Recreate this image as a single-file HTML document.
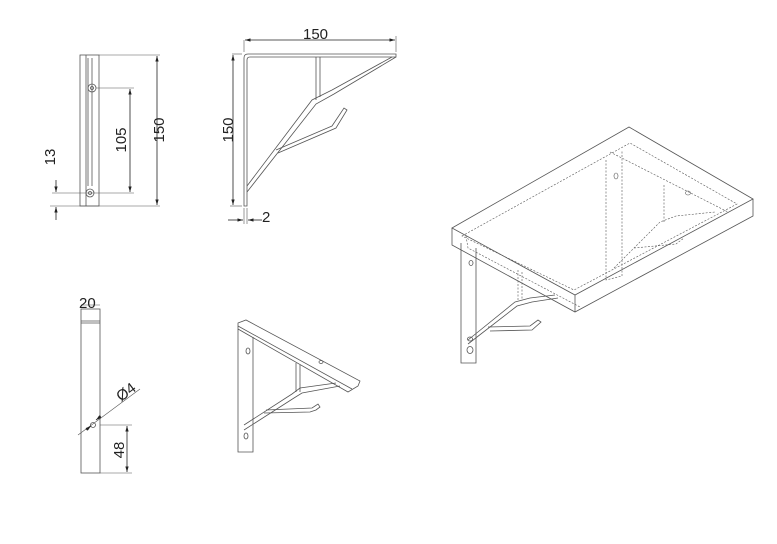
<!DOCTYPE html>
<html><head><meta charset="utf-8"><style>
html,body{margin:0;padding:0;background:#fff;}
svg{display:block}
text{font-family:"Liberation Sans",sans-serif;font-size:15px;fill:#222}
</style></head><body>
<svg width="777" height="544" viewBox="0 0 777 544" xmlns="http://www.w3.org/2000/svg">
<defs>
<marker id="a" viewBox="0 0 10 10" refX="10" refY="5" markerWidth="7" markerHeight="7" orient="auto-start-reverse"><path d="M0,2 L10,5 L0,8 z" fill="#222"/></marker>
</defs>
<g fill="none" stroke="#555" stroke-width="0.8">
<!-- View 1 -->
<rect x="80" y="55" width="19" height="151"/>
<line x1="86" y1="55" x2="86" y2="206"/>
<line x1="88" y1="58" x2="88" y2="186"/><line x1="92" y1="58" x2="92" y2="186"/>
<circle cx="92" cy="88" r="4"/><circle cx="92" cy="88" r="1.5"/>
<circle cx="90" cy="193" r="4"/><circle cx="90" cy="193" r="1.5"/>
<line x1="99" y1="55" x2="160" y2="55" stroke-width="0.6"/>
<line x1="50" y1="206" x2="160" y2="206" stroke-width="0.6"/>
<line x1="96" y1="88" x2="134" y2="88" stroke-width="0.6"/>
<line x1="52" y1="193" x2="134" y2="193" stroke-width="0.6"/>
<line x1="157" y1="56" x2="157" y2="205" marker-start="url(#a)" marker-end="url(#a)" stroke="#222"/>
<line x1="130" y1="89" x2="130" y2="192" marker-start="url(#a)" marker-end="url(#a)" stroke="#222"/>
<line x1="56" y1="180" x2="56" y2="192" marker-end="url(#a)" stroke="#222"/>
<line x1="56" y1="220" x2="56" y2="207" marker-end="url(#a)" stroke="#222"/>
<!-- View 2 -->
<path d="M244,206 V58 Q244,54 248,54 H396 V57 H250 Q247,57 247,60 V206 Z"/>
<line x1="316" y1="57" x2="316" y2="100"/><line x1="320" y1="57" x2="320" y2="97"/>
<path d="M247,186 L312,100 L332,90 L392,57"/>
<path d="M247,192 L316,104 L334,94 L396,57"/>
<path d="M276,150 L332,126 L344,108 L347,110 L336,128 L278,153"/>
<line x1="244" y1="40" x2="244" y2="52" stroke-width="0.6"/>
<line x1="396" y1="36" x2="396" y2="52" stroke-width="0.6"/>
<line x1="245" y1="40" x2="395" y2="40" marker-start="url(#a)" marker-end="url(#a)" stroke="#222"/>
<line x1="232" y1="54" x2="242" y2="54" stroke-width="0.6"/>
<line x1="230" y1="206" x2="242" y2="206" stroke-width="0.6"/>
<line x1="233" y1="55" x2="233" y2="205" marker-start="url(#a)" marker-end="url(#a)" stroke="#222"/>
<line x1="244" y1="208" x2="244" y2="224" stroke-width="0.6"/>
<line x1="247" y1="208" x2="247" y2="224" stroke-width="0.6"/>
<line x1="228" y1="220" x2="243" y2="220" marker-end="url(#a)" stroke="#222"/>
<line x1="262" y1="220" x2="248" y2="220" marker-end="url(#a)" stroke="#222"/>
<!-- View 3 -->
<rect x="81" y="309" width="19" height="164"/>
<line x1="81" y1="321" x2="100" y2="321"/><line x1="81" y1="323" x2="100" y2="323"/>
<line x1="81" y1="305" x2="100" y2="305" stroke-width="0.6"/>
<circle cx="93" cy="425" r="2.5"/>
<line x1="78" y1="435" x2="140" y2="389" stroke-width="0.6"/>
<line x1="86" y1="430" x2="91" y2="426" marker-end="url(#a)" stroke="#222"/>
<line x1="101" y1="416" x2="96" y2="420" marker-end="url(#a)" stroke="#222"/>
<line x1="100" y1="425" x2="132" y2="425" stroke-width="0.6"/>
<line x1="100" y1="473" x2="132" y2="473" stroke-width="0.6"/>
<line x1="127" y1="426" x2="127" y2="472" marker-start="url(#a)" marker-end="url(#a)" stroke="#222"/>
<!-- View 4 small iso -->
<path d="M238,329 L238,452 L253,452 L253,337"/>
<path d="M238,323 L246,320 L360,381 L358,386 L348,392 L238,329 Z"/>
<line x1="238" y1="326" x2="352" y2="389"/>
<ellipse cx="248" cy="351" rx="2" ry="3"/><ellipse cx="246" cy="436" rx="2" ry="3"/>
<ellipse cx="321" cy="362" rx="2" ry="1.5"/>
<line x1="296" y1="363" x2="296" y2="392"/><line x1="300" y1="365" x2="300" y2="392"/>
<path d="M244,425 L292,394 L300,388 L336,383"/>
<path d="M244,430 L294,398 L302,393 L340,386"/>
<path d="M264,413 L310,412 L316,410 L320,407 L318,404 L312,408 L266,410"/>
<!-- Iso assembly shelf -->
<path d="M452,228 L629,127 L753,199 L575,295 Z"/>
<path d="M452,228 V245 L575,312 L753,216 V199"/>
<line x1="575" y1="295" x2="575" y2="312"/>
<path d="M462,236 L630,143 L737,204 L574,290 Z" stroke-dasharray="2,1.5" stroke-width="0.6"/>
<path d="M461,243 L461,363 L476,363 L476,248"/>
<ellipse cx="470" cy="350" rx="3" ry="3.5"/><ellipse cx="470" cy="339" rx="2.5" ry="2"/>
<ellipse cx="471" cy="263" rx="2" ry="2.5"/>
<line x1="518" y1="270" x2="518" y2="300" stroke-dasharray="2,1.5" stroke-width="0.6"/>
<line x1="522" y1="272" x2="522" y2="300" stroke-dasharray="2,1.5" stroke-width="0.6"/>
<path d="M468,340 L515,302 L530,298 L555,295"/>
<path d="M468,344 L517,306 L532,302 L558,298"/>
<path d="M488,327 L530,326 L538,320 L541,322 L532,330 L490,331"/>
<path d="M466,236 L468,248 L580,307" stroke-dasharray="2,1.5" stroke-width="0.6"/>
<path d="M606,160 L606,280 L622,276 L622,150" stroke-dasharray="2,1.5" stroke-width="0.6"/>
<path d="M610,152 L728,212" stroke-dasharray="2,1.5" stroke-width="0.6"/>
<line x1="664" y1="185" x2="664" y2="222" stroke-dasharray="2,1.5" stroke-width="0.6"/>
<path d="M614,268 L660,222 L676,216 L715,212" stroke-dasharray="2,1.5" stroke-width="0.6"/>
<path d="M634,248 L676,244 L684,238" stroke-dasharray="2,1.5" stroke-width="0.6"/>
<ellipse cx="616" cy="176" rx="2" ry="3" stroke-width="0.6"/>
<ellipse cx="688" cy="193" rx="2.5" ry="2" stroke-width="0.6"/>
</g>
<text x="303" y="39">150</text>
<text x="262" y="222">2</text>
<text x="79" y="308">20</text>
<text transform="translate(164,130) rotate(-90)" text-anchor="middle">150</text>
<text transform="translate(126,140) rotate(-90)" text-anchor="middle">105</text>
<text transform="translate(55,157) rotate(-90)" text-anchor="middle">13</text>
<text transform="translate(233,130) rotate(-90)" text-anchor="middle">150</text>
<text transform="translate(124,450) rotate(-90)" text-anchor="middle">48</text>
<text transform="translate(121,402) rotate(-37)">Ø4</text>
</svg>
</body></html>
